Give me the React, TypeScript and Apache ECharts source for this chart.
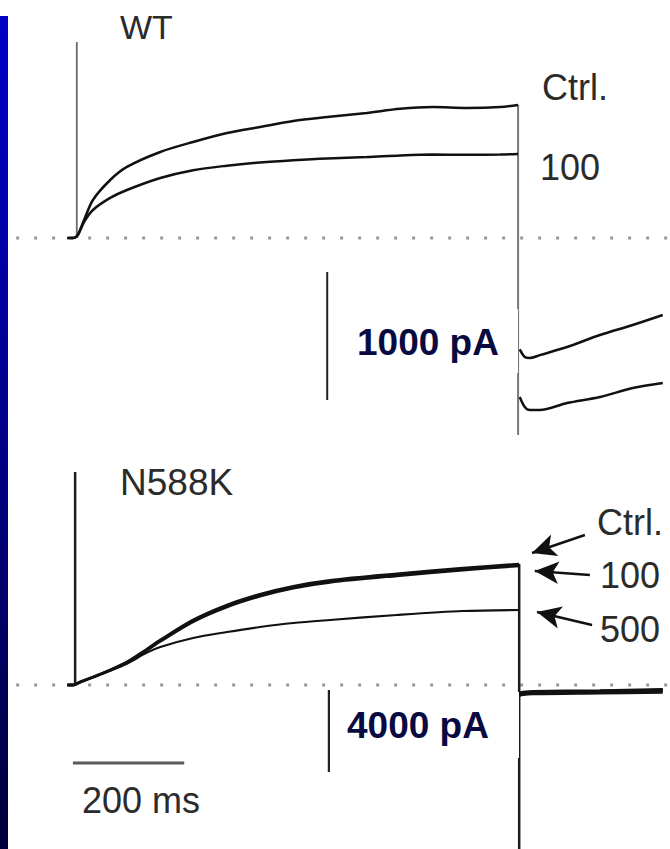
import React, { useEffect, useRef } from "react";
import * as echarts from "echarts";

// ---------- WT panel (time in ms from step onset, current in pA) ----------
const wtTime = [-10, 0, 8, 20, 36, 67, 97, 157, 216, 277, 336, 396, 457, 528, 588, 647, 708, 768, 800];
const wtCtrl = [0, 0, 20, 140, 297, 453, 555, 672, 750, 820, 867, 914, 945, 977, 1010, 1023, 1016, 1023, 1039];
const wt100 = [0, 0, 15, 125, 219, 313, 375, 469, 530, 565, 590, 608, 622, 632, 645, 652, 650, 652, 656];
const wtTailTime = [803, 812, 821, 839, 888, 947, 1006, 1060];
const wtTailCtrl = [-870, -930, -938, -915, -852, -758, -680, -602];
const wtTail100 = [-1242, -1320, -1344, -1344, -1289, -1242, -1172, -1133];
const wtOnsetSpike = [0, 1531];
const wtOffsetSpike = [1039, -1539];

// ---------- N588K panel ----------
const nTime = [-10, 0, 13, 36, 67, 97, 133, 157, 216, 277, 336, 396, 462, 582, 701, 802];
const nCtrl = [0, 0, 146, 390, 732, 1122, 1750, 2195, 3171, 3902, 4420, 4810, 5100, 5420, 5700, 5900];
const n100 = [0, 0, 140, 380, 720, 1100, 1700, 2130, 3090, 3810, 4330, 4730, 5010, 5330, 5610, 5810];
const n500 = [0, 0, 140, 380, 700, 1040, 1580, 1854, 2293, 2585, 2829, 3024, 3171, 3415, 3610, 3659];
const nTailTime = [802, 806, 827, 947, 1060];
const nTailCtrl = [-380, -360, -320, -280, -220];
const nTail100 = [-420, -400, -360, -310, -260];
const nTail500 = [-520, -480, -430, -390, -350];
const nOnsetSpike = [0, 10390];
const nOffsetSpike = [5900, -8000];

// arrows pointing at the N588K traces (from label to trace end)
const arrowFromT = [920, 929, 933];
const arrowFromI = [7317, 5366, 2927];
const arrowToT = [825, 830, 834];
const arrowToI = [6439, 5561, 3561];

// labels and scale bars
const wtLabels = ["Ctrl.", "100"];
const nLabels = ["Ctrl.", "100", "500"];
const scaleCurrentWT = 1000; // pA
const scaleCurrentN = 4000; // pA
const scaleTime = 200; // ms

const pair = (xs: number[], ys: number[]) => xs.map((x, i) => [x, ys[i]]);

const FONT = '"Liberation Sans", Arial, Helvetica, sans-serif';
const GRAY_TXT = "#2b2b2b";
const NAVY = "#0a0a42";

function buildOption() {
  const trace = (name: string, data: number[][], grid: number, color = "#111", width = 2.5, extra: any = {}) => ({
    type: "line",
    name,
    xAxisIndex: grid,
    yAxisIndex: grid,
    data,
    symbol: "none",
    smooth: 0.3,
    lineStyle: { color, width },
    silent: true,
    ...extra,
  });
  const seg = (name: string, data: number[][], grid: number, color: string, width: number, extra: any = {}) => ({
    type: "line",
    name,
    xAxisIndex: grid,
    yAxisIndex: grid,
    data,
    symbol: "none",
    smooth: false,
    lineStyle: { color, width },
    silent: true,
    ...extra,
  });

  const dotted = { type: [3, 15] as any };

  const series: any[] = [
    // WT
    seg("WT baseline", [[-102, 0], [1073, 0]], 0, "#999", 3, { lineStyle: { color: "#999", width: 3, ...dotted } }),
    seg("WT onset transient", [[7, wtOnsetSpike[0]], [7, wtOnsetSpike[1]]], 0, "#6a6a6a", 1.8),
    seg("WT offset transient", [[800, wtOffsetSpike[0]], [800, wtOffsetSpike[1]]], 0, "#777777", 2),
    trace("WT Ctrl", pair(wtTime, wtCtrl), 0),
    trace("WT 100", pair(wtTime, wt100), 0),
    trace("WT Ctrl tail", pair(wtTailTime, wtTailCtrl), 0),
    trace("WT 100 tail", pair(wtTailTime, wtTail100), 0),
    seg("WT scale", [[457, -1266], [457, -1266 + scaleCurrentWT]], 0, "#222", 2),
    // N588K
    seg("N baseline", [[-102, 0], [1073, 0]], 1, "#999", 3, { lineStyle: { color: "#999", width: 3, ...dotted } }),
    seg("N onset transient", [[4, nOnsetSpike[0]], [4, nOnsetSpike[1]]], 1, "#1c1c1c", 2.5),
    seg("N offset transient", [[802, nOffsetSpike[0]], [802, nOffsetSpike[1]]], 1, "#1c1c1c", 2.5),
    trace("N 500", pair(nTime, n500), 1, "#111", 2.2),
    trace("N 100", pair(nTime, n100), 1, "#111", 2.8),
    trace("N Ctrl", pair(nTime, nCtrl), 1, "#111", 2.8, {
      markLine: {
        silent: true,
        symbol: ["none", "arrow"],
        symbolSize: [17, 24],
        label: { show: false },
        lineStyle: { color: "#111", width: 2.5, type: "solid" },
        emphasis: { disabled: true },
        data: arrowFromT.map((t, i) => [
          { coord: [t, arrowFromI[i]] },
          { coord: [arrowToT[i], arrowToI[i]] },
        ]),
      },
    }),
    trace("N Ctrl tail", pair(nTailTime, nTailCtrl), 1, "#111", 3),
    trace("N 100 tail", pair(nTailTime, nTail100), 1, "#111", 3),
    trace("N 500 tail", pair(nTailTime, nTail500), 1, "#111", 3),
    seg("N scale", [[460, -4244], [460, -4244 + scaleCurrentN]], 1, "#222", 2.2),
    seg("time scale", [[0, -3805], [scaleTime, -3805]], 1, "#5a5a5a", 3),
  ];

  const txt = (text: string, x: number, y: number, size: number, color = GRAY_TXT, bold = false, z = 11) => ({
    type: "text",
    x,
    y,
    z,
    silent: true,
    style: {
      text,
      fill: color,
      font: `${bold ? "bold " : ""}${size}px ${FONT}`,
      textAlign: "left",
      textVerticalAlign: "middle",
      align: "left",
      verticalAlign: "middle",
    },
  });

  const graphic: any[] = [
    {
      type: "rect",
      shape: { x: 0, y: 16, width: 8, height: 833 },
      z: 5,
      silent: true,
      style: {
        fill: {
          type: "linear",
          x: 0,
          y: 0,
          x2: 0,
          y2: 1,
          colorStops: [
            { offset: 0, color: "#0000c8" },
            { offset: 0.5, color: "#00008a" },
            { offset: 1, color: "#00003a" },
          ],
        },
      },
    },
    // white label boxes over the traces
    { type: "rect", shape: { x: 340, y: 309, width: 178, height: 64 }, z: 10, silent: true, style: { fill: "#ffffff" } },
    { type: "rect", shape: { x: 332, y: 692, width: 187, height: 66 }, z: 10, silent: true, style: { fill: "#ffffff" } },
    txt("WT", 120, 27, 34),
    // top crop band that trims the WT label
    { type: "rect", shape: { x: 0, y: 0, width: 670, height: 15 }, z: 12, silent: true, style: { fill: "#ffffff" } },
    txt(wtLabels[0], 542, 87.4, 36),
    txt(wtLabels[1], 540, 167.4, 36),
    txt("N588K", 120, 482, 37),
    txt(nLabels[0], 597, 522.4, 36),
    txt(nLabels[1], 600, 575.4, 36),
    txt(nLabels[2], 600, 629.4, 36),
    txt(`${scaleTime} ms`, 82, 800.4, 36),
    txt(`${scaleCurrentWT} pA`, 357, 342, 37, NAVY, true),
    txt(`${scaleCurrentN} pA`, 347, 725, 37, NAVY, true),
  ];

  return {
    animation: false,
    backgroundColor: "#ffffff",
    grid: [
      { left: 0, top: 0, width: 670, height: 440 },
      { left: 0, top: 440, width: 670, height: 409 },
    ],
    xAxis: [
      { type: "value", gridIndex: 0, min: -131, max: 1073, show: false },
      { type: "value", gridIndex: 1, min: -131, max: 1073, show: false },
    ],
    yAxis: [
      { type: "value", gridIndex: 0, min: -1578.125, max: 1859.375, show: false },
      { type: "value", gridIndex: 1, min: -8000, max: 11951, show: false },
    ],
    series,
    graphic,
  };
}

export default function App() {
  const ref = useRef<HTMLDivElement>(null);
  useEffect(() => {
    if (!ref.current) return;
    const chart = echarts.init(ref.current, null, { renderer: "svg" });
    chart.setOption(buildOption() as any);
    return () => chart.dispose();
  }, []);
  return (
    <div
      ref={ref}
      style={{ position: "absolute", left: 0, top: 0, width: 670, height: 849, background: "#fff" }}
    />
  );
}
